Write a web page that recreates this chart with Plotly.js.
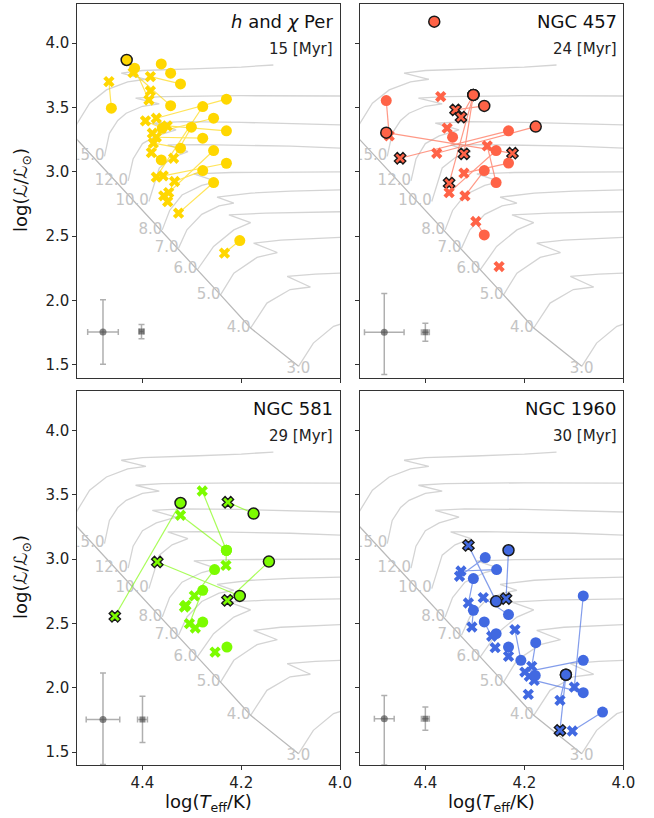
<!DOCTYPE html>
<html><head><meta charset="utf-8">
<script src="https://cdn.plot.ly/plotly-3.0.1.min.js"></script>
<style>html,body{margin:0;padding:0;background:#fff}</style>
</head><body><div id="chart" style="width:654px;height:818px"></div>
<script>
// ---------- evolutionary tracks ----------
const trkTop_teff = [4.58, 4.534, 4.507, 4.473, 4.43, 4.393, 4.443, 4.40, 4.30, 4.20, 4.135];
const trkTop_logL = [3.20, 3.365, 3.534, 3.637, 3.70, 3.720, 3.767, 3.788, 3.80, 3.815, 3.831];
const trk15_teff = [4.477, 4.467, 4.45, 4.433, 4.40, 4.366, 4.414, 4.36, 4.20, 4.00];
const trk15_logL = [3.12, 3.30, 3.40, 3.456, 3.51, 3.528, 3.573, 3.585, 3.592, 3.59];
const trk12_teff = [4.429, 4.419, 4.40, 4.372, 4.332, 4.380, 4.32, 4.20, 4.00];
const trk12_logL = [2.93, 3.10, 3.22, 3.28, 3.326, 3.378, 3.39, 3.385, 3.365];
const trk10_teff = [4.387, 4.375, 4.366, 4.34, 4.308, 4.349, 4.28, 4.10, 4.00];
const trk10_logL = [2.77, 2.92, 3.03, 3.11, 3.158, 3.210, 3.212, 3.20, 3.185];
const trk8_teff = [4.360, 4.345, 4.32, 4.28, 4.249, 4.296, 4.22, 4.10, 4.00];
const trk8_logL = [2.549, 2.70, 2.82, 2.895, 2.925, 2.985, 2.995, 3.00, 3.00];
const trk7_teff = [4.327, 4.31, 4.28, 4.245, 4.215, 4.249, 4.18, 4.10, 4.00];
const trk7_logL = [2.407, 2.55, 2.67, 2.735, 2.757, 2.803, 2.835, 2.85, 2.86];
const trk6_teff = [4.289, 4.256, 4.215, 4.181, 4.225, 4.15, 4.00];
const trk6_logL = [2.239, 2.420, 2.549, 2.605, 2.665, 2.68, 2.69];
const trk5_teff = [4.242, 4.215, 4.168, 4.127, 4.175, 4.12, 4.00];
const trk5_logL = [2.044, 2.213, 2.335, 2.373, 2.446, 2.47, 2.49];
const trk4_teff = [4.181, 4.148, 4.101, 4.060, 4.107, 4.05, 4.00];
const trk4_logL = [1.786, 1.980, 2.085, 2.105, 2.187, 2.205, 2.213];
const trk3_teff = [4.084, 4.054, 4.013, 3.98];
const trk3_logL = [1.488, 1.669, 1.799, 1.84];
const zams_teff = [4.56, 4.532, 4.323, 4.242, 4.181, 4.084];
const zams_logL = [3.365, 3.249, 2.381, 2.044, 1.786, 1.488];
const mass_labels = ['15.0', '12.0', '10.0', '8.0', '7.0', '6.0', '5.0', '4.0', '3.0'];
const mass_label_teff = [4.477, 4.429, 4.387, 4.360, 4.327, 4.289, 4.242, 4.181, 4.060];
const mass_label_logL = [3.12, 2.93, 2.769, 2.549, 2.407, 2.239, 2.044, 1.786, 1.467];

// ---------- clusters ----------
const cluster_names = ['<i>h</i> and <i>χ</i> Per', 'NGC 457', 'NGC 581', 'NGC 1960'];
const cluster_ages = [15, 24, 29, 30];
const cluster_colors = ['#FFD700', '#FF6347', '#7CFC00', '#4169E1'];

// h and chi Per : spectroscopic (x) paired with photometric (o)
const hx_spec_teff = [4.468, 4.419, 4.384, 4.387, 4.384, 4.372, 4.394, 4.350, 4.380, 4.372, 4.378, 4.382, 4.337, 4.372, 4.358, 4.335, 4.347, 4.357, 4.349, 4.327, 4.234, null, null, null];
const hx_spec_logL = [3.702, 3.772, 3.741, 3.559, 3.629, 3.417, 3.396, 3.357, 3.300, 3.269, 3.223, 3.150, 3.106, 2.959, 2.969, 2.925, 2.839, 2.814, 2.769, 2.679, 2.368, null, null, null];
const hx_spec_flag = [0,0,0,0,0,0,0,0,0,0,0,0,0,0,0,0,0,0,0,0,0,0,0,0];
const hx_phot_teff = [4.463, 4.343, 4.323, 4.416, null, 4.230, 4.360, 4.230, 4.256, 4.278, 4.323, 4.362, 4.301, 4.278, 4.230, 4.278, 4.256, null, null, 4.256, 4.203, 4.432, 4.362, 4.343];
const hx_phot_logL = [3.495, 3.515, 3.684, 3.806, null, 3.565, 3.339, 3.319, 3.417, 3.262, 3.184, 3.093, 3.347, 3.508, 3.067, 3.010, 3.166, null, null, 2.917, 2.466, 3.870, 3.839, 3.767];
const hx_phot_flag = [0,0,0,0,0,0,0,0,0,0,0,0,0,0,0,0,0,0,0,0,0,1,0,0];

// NGC 457
const n457_spec_teff = [4.473, 4.275, 4.224, 4.451, 4.377, 4.339, 4.328, 4.356, 4.352, 4.322, 4.322, 4.320, 4.352, 4.298, 4.251, 4.369, null];
const n457_spec_logL = [3.280, 3.202, 3.145, 3.106, 3.145, 3.482, 3.425, 3.340, 2.912, 3.140, 2.990, 2.813, 2.839, 2.614, 2.264, 3.585, null];
const n457_spec_flag = [0,0,1,1,0,1,1,0,1,1,0,0,0,0,0,0,0];
const n457_phot_teff = [4.479, 4.257, 4.479, 4.232, 4.177, 4.281, 4.303, 4.345, 4.303, 4.303, 4.232, 4.281, 4.257, 4.281, null, null, 4.382];
const n457_phot_logL = [3.554, 2.917, 3.305, 3.319, 3.352, 3.513, 3.598, 3.270, 3.598, 3.598, 3.068, 3.010, 3.166, 2.510, null, null, 4.168];
const n457_phot_flag = [0,0,1,0,1,1,1,0,1,1,0,0,0,0,0,0,1];

// NGC 581
const n581_spec_teff = [4.456, 4.323, 4.279, 4.231, 4.227, 4.370, 4.228, 4.295, 4.305, 4.312, 4.315, 4.293, null, 4.253, null];
const n581_spec_logL = [2.555, 3.340, 3.528, 2.951, 3.441, 2.977, 2.679, 2.714, 2.498, 2.640, 2.627, 2.464, null, 2.277, null];
const n581_spec_flag = [1,0,0,0,1,1,1,0,0,0,0,0,0,0,0];
const n581_phot_teff = [4.323, 4.230, 4.230, 4.230, 4.175, 4.203, 4.144, 4.254, 4.278, null, null, null, 4.278, null, 4.229];
const n581_phot_logL = [3.435, 3.068, 3.068, 3.068, 3.353, 2.713, 2.980, 2.918, 2.757, null, null, null, 2.510, null, 2.316];
const n581_phot_flag = [1,0,0,0,1,1,1,0,0,0,0,0,0,0,0];

// NGC 1960
const n1960_spec_teff = [4.313, 4.328, 4.331, 4.237, 4.313, 4.283, 4.306, 4.266, 4.219, 4.185, 4.199, 4.180, 4.099, 4.128, 4.128, 4.103, 4.259, 4.232, 4.190, 4.192, null];
const n1960_spec_logL = [3.106, 2.907, 2.866, 2.692, 2.658, 2.700, 2.472, 2.400, 2.451, 2.166, 2.122, 2.057, 2.005, 1.669, 1.902, 1.664, 2.311, 2.244, 2.089, 1.949, null];
const n1960_spec_flag = [1,0,0,1,0,0,0,0,0,0,0,0,0,1,0,0,0,0,0,0,0];
const n1960_phot_teff = [4.257, 4.256, 4.279, 4.232, 4.303, 4.232, 4.303, 4.281, 4.207, 4.177, 4.081, 4.081, 4.081, 4.116, 4.116, 4.042, null, 4.232, 4.178, null, 4.257];
const n1960_phot_logL = [2.671, 2.918, 3.011, 3.068, 2.848, 2.568, 2.601, 2.511, 2.213, 2.350, 2.213, 1.962, 2.713, 2.101, 2.101, 1.811, null, 2.316, 2.096, null, 2.420];
const n1960_phot_flag = [1,0,0,1,0,0,0,0,0,0,0,0,0,1,1,0,0,0,0,0,0];

// typical uncertainties (photometric circle, spectroscopic square)
const hx_err_teff = [4.480, 4.402], hx_err_logL = [1.755, 1.758];
const hx_err_dteff = [0.031, 0.005], hx_err_dlogL_up = [0.25, 0.055], hx_err_dlogL_dn = [0.25, 0.055];
const n457_err_teff = [4.483, 4.400], n457_err_logL = [1.754, 1.754];
const n457_err_dteff = [0.040, 0.008], n457_err_dlogL_up = [0.30, 0.07], n457_err_dlogL_dn = [0.33, 0.07];
const n581_err_teff = [4.480, 4.400], n581_err_logL = [1.754, 1.754];
const n581_err_dteff = [0.034, 0.010], n581_err_dlogL_up = [0.36, 0.18], n581_err_dlogL_dn = [0.35, 0.18];
const n1960_err_teff = [4.483, 4.400], n1960_err_logL = [1.76, 1.76];
const n1960_err_dteff = [0.020, 0.008], n1960_err_dlogL_up = [0.18, 0.09], n1960_err_dlogL_dn = [0.36, 0.09];

// ---------- build ----------
const FONT = 'DejaVu Sans, Liberation Sans, sans-serif';
const tracks = [[trkTop_teff, trkTop_logL], [trk15_teff, trk15_logL], [trk12_teff, trk12_logL], [trk10_teff, trk10_logL],
  [trk8_teff, trk8_logL], [trk7_teff, trk7_logL], [trk6_teff, trk6_logL], [trk5_teff, trk5_logL], [trk4_teff, trk4_logL], [trk3_teff, trk3_logL]];
const trkX = [], trkY = [];
tracks.forEach(t => { trkX.push(...t[0], null); trkY.push(...t[1], null); });

const panels = [
  {st: hx_spec_teff, sl: hx_spec_logL, sf: hx_spec_flag, pt: hx_phot_teff, pl: hx_phot_logL, pf: hx_phot_flag,
   et: hx_err_teff, el: hx_err_logL, edt: hx_err_dteff, edu: hx_err_dlogL_up, edd: hx_err_dlogL_dn},
  {st: n457_spec_teff, sl: n457_spec_logL, sf: n457_spec_flag, pt: n457_phot_teff, pl: n457_phot_logL, pf: n457_phot_flag,
   et: n457_err_teff, el: n457_err_logL, edt: n457_err_dteff, edu: n457_err_dlogL_up, edd: n457_err_dlogL_dn},
  {st: n581_spec_teff, sl: n581_spec_logL, sf: n581_spec_flag, pt: n581_phot_teff, pl: n581_phot_logL, pf: n581_phot_flag,
   et: n581_err_teff, el: n581_err_logL, edt: n581_err_dteff, edu: n581_err_dlogL_up, edd: n581_err_dlogL_dn},
  {st: n1960_spec_teff, sl: n1960_spec_logL, sf: n1960_spec_flag, pt: n1960_phot_teff, pl: n1960_phot_logL, pf: n1960_phot_flag,
   et: n1960_err_teff, el: n1960_err_logL, edt: n1960_err_dteff, edu: n1960_err_dlogL_up, edd: n1960_err_dlogL_dn}
];

const traces = [];
const annotations = [];
panels.forEach((p, k) => {
  const xa = k === 0 ? 'x' : 'x' + (k + 1);
  const ya = k === 0 ? 'y' : 'y' + (k + 1);
  const col = cluster_colors[k];
  traces.push({x: trkX, y: trkY, xaxis: xa, yaxis: ya, mode: 'lines', line: {color: '#d4d4d4', width: 1.3}, hoverinfo: 'skip', showlegend: false, connectgaps: false});
  traces.push({x: zams_teff, y: zams_logL, xaxis: xa, yaxis: ya, mode: 'lines', line: {color: '#bababa', width: 1.3}, hoverinfo: 'skip', showlegend: false});
  traces.push({x: mass_label_teff, y: mass_label_logL, xaxis: xa, yaxis: ya, mode: 'text', text: mass_labels, textposition: 'middle left',
    textfont: {family: FONT, size: 15, color: '#c4c4c4'}, cliponaxis: true, hoverinfo: 'skip', showlegend: false});
  traces.push({x: [p.et[0]], y: [p.el[0]], xaxis: xa, yaxis: ya, mode: 'markers', marker: {symbol: 'circle', size: 7, color: 'rgba(70,70,70,0.65)'},
    error_x: {type: 'data', array: [p.edt[0]], color: 'rgba(110,110,110,0.55)', thickness: 1.5, width: 3},
    error_y: {type: 'data', symmetric: false, array: [p.edu[0]], arrayminus: [p.edd[0]], color: 'rgba(110,110,110,0.55)', thickness: 1.5, width: 3},
    showlegend: false, hoverinfo: 'skip'});
  traces.push({x: [p.et[1]], y: [p.el[1]], xaxis: xa, yaxis: ya, mode: 'markers', marker: {symbol: 'square', size: 6, color: 'rgba(70,70,70,0.65)'},
    error_x: {type: 'data', array: [p.edt[1]], color: 'rgba(110,110,110,0.55)', thickness: 1.5, width: 3},
    error_y: {type: 'data', symmetric: false, array: [p.edu[1]], arrayminus: [p.edd[1]], color: 'rgba(110,110,110,0.55)', thickness: 1.5, width: 3},
    showlegend: false, hoverinfo: 'skip'});
  const lx = [], ly = [];
  for (let i = 0; i < p.st.length; i++) {
    if (p.st[i] != null && p.pt[i] != null) { lx.push(p.st[i], p.pt[i], null); ly.push(p.sl[i], p.pl[i], null); }
  }
  traces.push({x: lx, y: ly, xaxis: xa, yaxis: ya, mode: 'lines', line: {color: col, width: 1.2}, opacity: 0.65, hoverinfo: 'skip', showlegend: false});
  traces.push({x: p.st, y: p.sl, xaxis: xa, yaxis: ya, mode: 'markers',
    marker: {symbol: 'x', size: 10, color: col, line: {color: '#1a1a1a', width: p.sf.map(f => f ? 1.4 : 0)}}, showlegend: false});
  traces.push({x: p.pt, y: p.pl, xaxis: xa, yaxis: ya, mode: 'markers',
    marker: {symbol: 'circle', size: 11, color: col, line: {color: '#1a1a1a', width: p.pf.map(f => f ? 1.5 : 0)}}, showlegend: false});
  const xdom = xa === 'x' ? 'x domain' : xa + ' domain';
  const ydom = ya === 'y' ? 'y domain' : ya + ' domain';
  annotations.push({xref: xdom, yref: ydom, x: 0.982, y: 0.953, xanchor: 'right', yanchor: 'middle', showarrow: false,
    text: cluster_names[k], font: {family: FONT, size: 18, color: '#111'}});
  annotations.push({xref: xdom, yref: ydom, x: 0.982, y: 0.879, xanchor: 'right', yanchor: 'middle', showarrow: false,
    text: cluster_ages[k] + ' [Myr]', font: {family: FONT, size: 15, color: '#222'}});
});

// axis titles
[0.7677, 0.2946].forEach(yy => annotations.push({xref: 'paper', yref: 'paper', x: 0.0336, y: yy, xanchor: 'center', yanchor: 'middle',
  textangle: -90, showarrow: false, text: 'log(<i>ℒ</i>/<i>ℒ</i><sub>⊙</sub>)', font: {family: FONT, size: 18, color: '#111'}}));
[0.319, 0.7518].forEach(xx => annotations.push({xref: 'paper', yref: 'paper', x: xx, y: 0.0183, xanchor: 'center', yanchor: 'middle',
  showarrow: false, text: 'log(<i>T</i><sub>eff</sub>/K)', font: {family: FONT, size: 18, color: '#111'}}));

const xTicks = [4.4, 4.2, 4.0];
const yTicks = [1.5, 2.0, 2.5, 3.0, 3.5, 4.0];
function xAxis(dom, anchor, labels) {
  return {domain: dom, anchor: anchor, range: [4.532, 4.0], tickvals: xTicks, ticktext: xTicks.map(v => v.toFixed(1)),
    showticklabels: labels, ticks: 'outside', ticklen: 4, tickwidth: 1, tickcolor: '#333', showline: true, mirror: true,
    linecolor: '#333', linewidth: 1, showgrid: false, zeroline: false, tickfont: {family: FONT, size: 15, color: '#222'}};
}
function yAxis(dom, anchor, labels) {
  return {domain: dom, anchor: anchor, range: [1.40, 4.305], tickvals: yTicks, ticktext: yTicks.map(v => v.toFixed(1)),
    showticklabels: labels, ticks: 'outside', ticklen: 4, tickwidth: 1, tickcolor: '#333', showline: true, mirror: true,
    linecolor: '#333', linewidth: 1, showgrid: false, zeroline: false, tickfont: {family: FONT, size: 15, color: '#222'}};
}
const XL = [0.1182, 0.5199], XR = [0.5505, 0.9531], YT = [0.5383, 0.9951], YB = [0.0648, 0.5220];
const layout = {
  width: 654, height: 818, margin: {l: 0, r: 0, t: 0, b: 0}, paper_bgcolor: '#fff', plot_bgcolor: '#fff',
  showlegend: false, font: {family: FONT},
  xaxis: xAxis(XL, 'y', false), yaxis: yAxis(YT, 'x', true),
  xaxis2: xAxis(XR, 'y2', false), yaxis2: yAxis(YT, 'x2', false),
  xaxis3: xAxis(XL, 'y3', true), yaxis3: yAxis(YB, 'x3', true),
  xaxis4: xAxis(XR, 'y4', true), yaxis4: yAxis(YB, 'x4', false),
  annotations: annotations
};
Plotly.newPlot('chart', traces, layout, {displayModeBar: false, staticPlot: true});
</script></body></html>
